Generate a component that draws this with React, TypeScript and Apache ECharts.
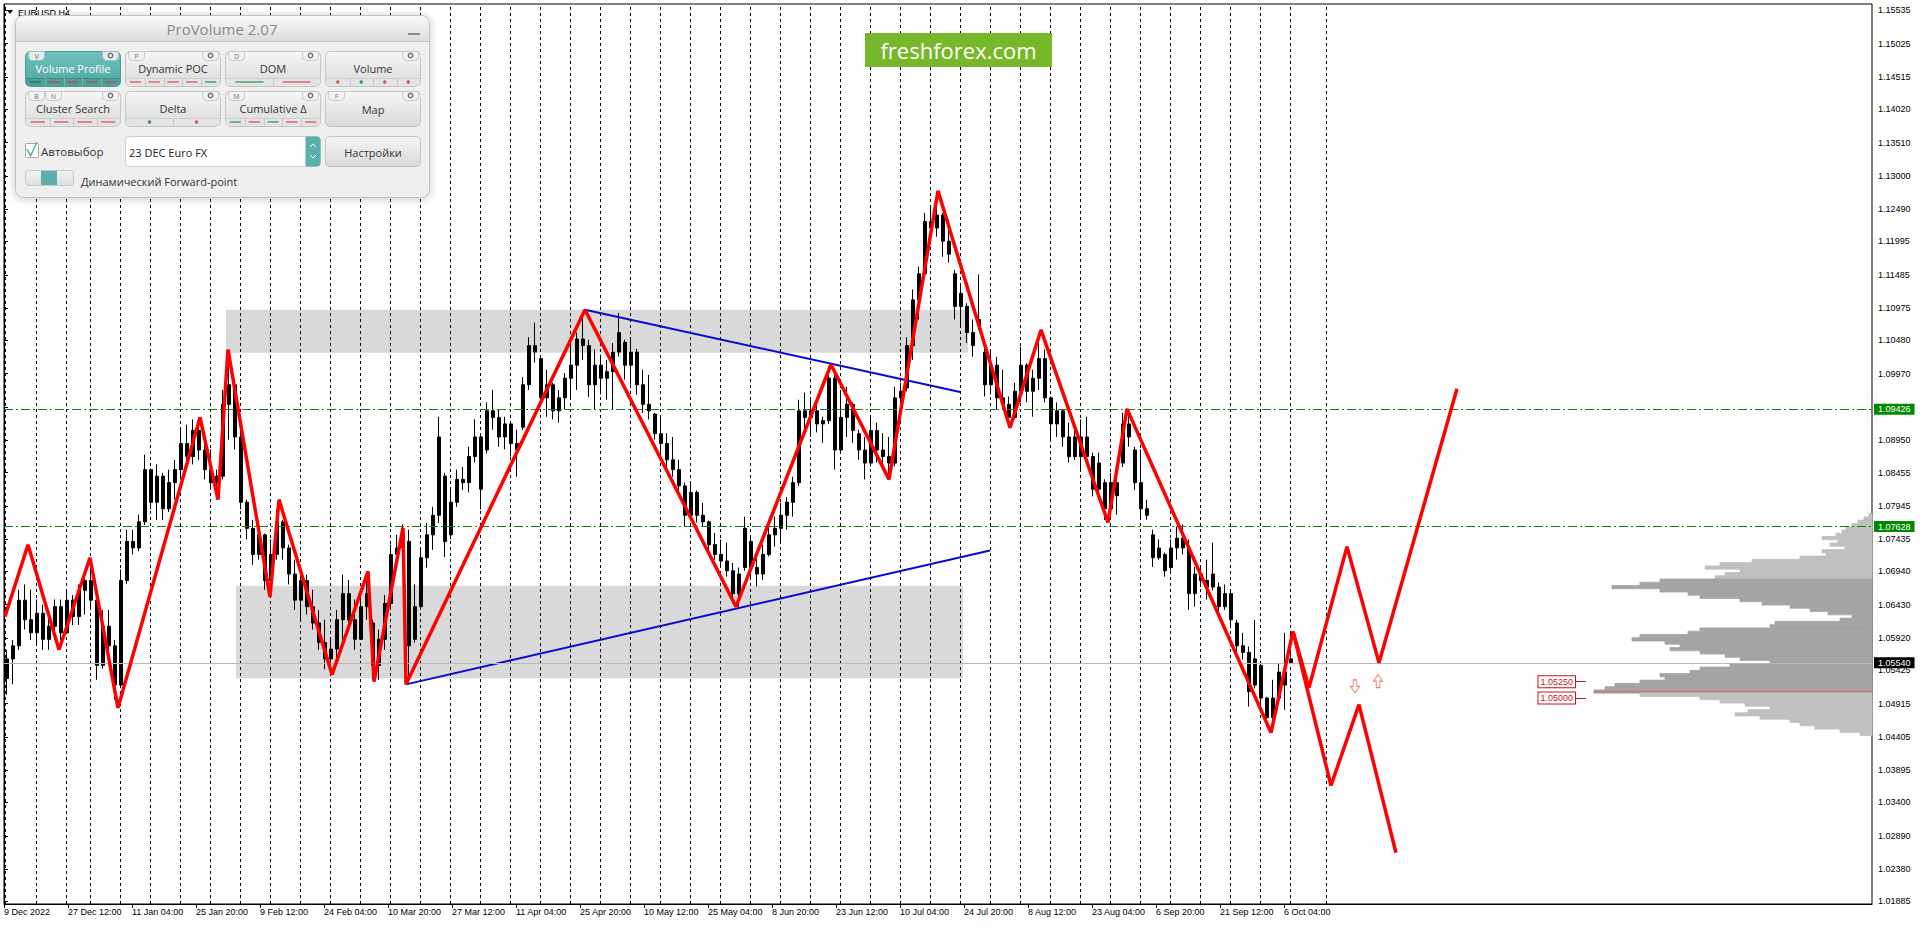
import React, { useEffect, useRef } from "react";
import * as echarts from "echarts";

// ---------- axes ----------
const PRICE_MIN = 1.01845;
const PRICE_MAX = 1.15633;
const BAR_SPAN = 1868; // H4 bars visible across the plot

const xTickBars = [0, 64, 128, 192, 256, 320, 384, 448, 512, 576, 640, 704, 768, 832, 896, 960, 1024, 1088, 1152, 1216, 1280];
const xTickLabels = [
  "9 Dec 2022", "27 Dec 12:00", "11 Jan 04:00", "25 Jan 20:00", "9 Feb 12:00", "24 Feb 04:00",
  "10 Mar 20:00", "27 Mar 12:00", "11 Apr 04:00", "25 Apr 20:00", "10 May 12:00", "25 May 04:00",
  "8 Jun 20:00", "23 Jun 12:00", "10 Jul 04:00", "24 Jul 20:00", "8 Aug 12:00", "23 Aug 04:00",
  "6 Sep 20:00", "21 Sep 12:00", "6 Oct 04:00",
];
const yTickValues = [
  1.15535, 1.15025, 1.14515, 1.1402, 1.1351, 1.13, 1.1249, 1.11995, 1.11485, 1.10975, 1.1048, 1.0997,
  1.0946, 1.0895, 1.08455, 1.07945, 1.07435, 1.0694, 1.0643, 1.0592, 1.05425, 1.04915, 1.04405,
  1.03895, 1.034, 1.0289, 1.0238, 1.01885,
];
// weekly period separators (bar index)
const weekSeparators = [
  1.5, 32.5, 62.5, 86.5, 116.5, 146.5, 176.5, 206.5, 236.5, 266.5, 296.5, 326.5, 356.5, 386.5, 416.5,
  446.5, 476.5, 506.5, 536.5, 566.5, 596.5, 626.5, 656.5, 686.5, 716.5, 746.5, 776.5, 806.5, 836.5,
  866.5, 896.5, 926.5, 956.5, 986.5, 1016.5, 1046.5, 1076.5, 1106.5, 1136.5, 1166.5, 1196.5, 1226.5,
  1256.5, 1286.5, 1322.5,
];

// ---------- price (daily OHLC: open, high, low, close), one per 6 H4 bars ----------
const dailyBars = [
  [1.053, 1.0574, 1.0505, 1.056], [1.056, 1.0589, 1.0521, 1.058], [1.058, 1.0666, 1.0574, 1.065], [1.065, 1.0674, 1.0605, 1.062],
  [1.062, 1.0666, 1.0589, 1.06], [1.06, 1.0651, 1.0582, 1.063], [1.063, 1.0643, 1.0574, 1.059], [1.059, 1.0635, 1.0574, 1.061],
  [1.061, 1.0651, 1.0589, 1.064], [1.064, 1.0651, 1.0589, 1.06], [1.06, 1.0666, 1.0598, 1.065], [1.065, 1.0658, 1.0612, 1.0625],
  [1.0625, 1.0674, 1.0612, 1.0665], [1.0665, 1.0689, 1.0628, 1.068], [1.068, 1.0704, 1.0635, 1.065], [1.065, 1.0651, 1.0528, 1.055],
  [1.055, 1.0635, 1.0545, 1.061], [1.061, 1.0635, 1.0574, 1.058], [1.058, 1.0589, 1.0498, 1.052], [1.052, 1.0697, 1.0515, 1.068],
  [1.068, 1.0758, 1.0675, 1.074], [1.074, 1.0758, 1.072, 1.073], [1.073, 1.0781, 1.0725, 1.077], [1.077, 1.0873, 1.0765, 1.085],
  [1.085, 1.0852, 1.0789, 1.08], [1.08, 1.0858, 1.0773, 1.084], [1.084, 1.0845, 1.0773, 1.079], [1.079, 1.085, 1.0785, 1.083],
  [1.083, 1.0865, 1.0804, 1.085], [1.085, 1.0911, 1.0835, 1.089], [1.089, 1.0919, 1.085, 1.087], [1.087, 1.0927, 1.0858, 1.091],
  [1.091, 1.0927, 1.0865, 1.088], [1.088, 1.0896, 1.0835, 1.085], [1.085, 1.0881, 1.0819, 1.083], [1.083, 1.085, 1.0804, 1.084],
  [1.084, 1.0972, 1.0835, 1.095], [1.095, 1.1023, 1.0896, 1.098], [1.098, 1.0988, 1.0881, 1.09], [1.09, 1.0911, 1.0789, 1.08],
  [1.08, 1.0804, 1.0743, 1.076], [1.076, 1.0773, 1.0704, 1.072], [1.072, 1.0766, 1.0712, 1.075], [1.075, 1.0752, 1.0666, 1.068],
  [1.068, 1.0743, 1.0674, 1.072], [1.072, 1.0789, 1.0712, 1.077], [1.077, 1.0773, 1.0712, 1.073], [1.073, 1.0735, 1.0674, 1.069],
  [1.069, 1.0712, 1.0635, 1.065], [1.065, 1.0704, 1.062, 1.068], [1.068, 1.0689, 1.0628, 1.064], [1.064, 1.0666, 1.0605, 1.0615],
  [1.0615, 1.0635, 1.0574, 1.0585], [1.0585, 1.062, 1.0544, 1.056], [1.056, 1.0589, 1.0536, 1.0575], [1.0575, 1.0635, 1.0559, 1.062],
  [1.062, 1.0689, 1.0589, 1.066], [1.066, 1.0681, 1.0605, 1.062], [1.062, 1.0651, 1.0574, 1.059], [1.059, 1.0666, 1.0589, 1.064],
  [1.064, 1.0692, 1.062, 1.066], [1.0615, 1.062, 1.0528, 1.055], [1.055, 1.0605, 1.0528, 1.059], [1.059, 1.0658, 1.0574, 1.0645],
  [1.0645, 1.0735, 1.064, 1.072], [1.072, 1.075, 1.0697, 1.073], [1.073, 1.0766, 1.0712, 1.075], [1.074, 1.0758, 1.0521, 1.058],
  [1.059, 1.0674, 1.0585, 1.064], [1.064, 1.0731, 1.0635, 1.0715], [1.0715, 1.0768, 1.07, 1.075], [1.075, 1.0793, 1.0727, 1.078],
  [1.078, 1.0931, 1.0768, 1.09], [1.084, 1.0845, 1.0716, 1.074], [1.075, 1.0819, 1.0743, 1.08], [1.08, 1.085, 1.0793, 1.0835],
  [1.0835, 1.0854, 1.0819, 1.083], [1.083, 1.0885, 1.0815, 1.087], [1.087, 1.0927, 1.0861, 1.09], [1.09, 1.0905, 1.0789, 1.082],
  [1.088, 1.0953, 1.0875, 1.094], [1.094, 1.0972, 1.0911, 1.093], [1.093, 1.0942, 1.0885, 1.09], [1.09, 1.0931, 1.0881, 1.092],
  [1.092, 1.0922, 1.087, 1.089], [1.089, 1.0911, 1.0839, 1.088], [1.0915, 1.0992, 1.0911, 1.098], [1.098, 1.1053, 1.0972, 1.104],
  [1.104, 1.1075, 1.1014, 1.103], [1.102, 1.1023, 1.0946, 1.096], [1.096, 1.1003, 1.0931, 1.098], [1.098, 1.0983, 1.0927, 1.094],
  [1.094, 1.0972, 1.0922, 1.096], [1.096, 1.0998, 1.0942, 1.099], [1.099, 1.1041, 1.0957, 1.101], [1.101, 1.106, 1.0972, 1.105],
  [1.105, 1.1086, 1.1018, 1.104], [1.104, 1.1049, 1.0961, 1.098], [1.098, 1.1034, 1.0942, 1.101], [1.101, 1.1026, 1.0965, 1.099],
  [1.099, 1.1018, 1.0957, 1.1], [1.1, 1.1044, 1.0942, 1.103], [1.103, 1.109, 1.1023, 1.106], [1.1045, 1.1049, 1.0988, 1.101],
  [1.101, 1.1049, 1.098, 1.103], [1.103, 1.1035, 1.0965, 1.098], [1.098, 1.1003, 1.0937, 1.095], [1.095, 1.0995, 1.0927, 1.094],
  [1.0935, 1.0937, 1.0896, 1.0905], [1.0905, 1.0931, 1.087, 1.089], [1.089, 1.0906, 1.0854, 1.0865], [1.0865, 1.09, 1.0839, 1.085],
  [1.085, 1.0865, 1.0815, 1.0825], [1.0825, 1.083, 1.0763, 1.078], [1.078, 1.083, 1.0776, 1.0815], [1.0815, 1.0818, 1.0769, 1.078],
  [1.078, 1.0799, 1.0763, 1.077], [1.077, 1.0772, 1.0723, 1.0735], [1.0735, 1.0753, 1.0712, 1.072], [1.072, 1.0743, 1.0701, 1.071],
  [1.071, 1.0738, 1.0686, 1.0695], [1.0695, 1.0707, 1.0646, 1.066], [1.066, 1.07, 1.064, 1.069], [1.07, 1.0778, 1.0695, 1.076],
  [1.074, 1.0745, 1.0681, 1.07], [1.07, 1.0717, 1.0671, 1.069], [1.069, 1.0735, 1.0681, 1.072], [1.072, 1.0769, 1.0717, 1.075],
  [1.075, 1.0778, 1.0732, 1.076], [1.076, 1.0799, 1.0738, 1.078], [1.078, 1.0808, 1.0758, 1.08], [1.08, 1.0839, 1.0778, 1.083],
  [1.083, 1.0957, 1.0825, 1.094], [1.094, 1.0968, 1.0911, 1.093], [1.093, 1.0957, 1.09, 1.094], [1.094, 1.0952, 1.0907, 1.092],
  [1.092, 1.0931, 1.0891, 1.0925], [1.0925, 1.1008, 1.092, 1.099], [1.099, 1.0995, 1.085, 1.088], [1.088, 1.0972, 1.0875, 1.093],
  [1.093, 1.0977, 1.09, 1.095], [1.095, 1.0953, 1.0891, 1.091], [1.0905, 1.0911, 1.0865, 1.088], [1.088, 1.09, 1.0835, 1.086],
  [1.086, 1.0931, 1.0855, 1.091], [1.091, 1.0922, 1.0861, 1.088], [1.088, 1.0906, 1.085, 1.087], [1.087, 1.09, 1.0838, 1.086],
  [1.086, 1.0977, 1.0855, 1.096], [1.096, 1.0983, 1.0927, 1.097], [1.0975, 1.1053, 1.097, 1.104], [1.104, 1.1126, 1.1018, 1.111],
  [1.111, 1.1161, 1.108, 1.115], [1.115, 1.1243, 1.1145, 1.123], [1.123, 1.1253, 1.1197, 1.122], [1.122, 1.127, 1.1207, 1.124],
  [1.124, 1.1243, 1.1176, 1.12], [1.12, 1.1233, 1.1167, 1.118], [1.115, 1.1156, 1.108, 1.11], [1.11, 1.1136, 1.1069, 1.112],
  [1.11, 1.1105, 1.1044, 1.106], [1.106, 1.108, 1.1023, 1.104], [1.107, 1.1149, 1.1064, 1.108], [1.103, 1.1038, 1.0962, 1.098],
  [1.098, 1.1034, 1.0965, 1.101], [1.101, 1.1023, 1.0942, 1.096], [1.096, 1.1003, 1.0942, 1.095], [1.095, 1.0962, 1.0916, 1.093],
  [1.093, 1.0983, 1.0927, 1.097], [1.097, 1.1038, 1.0953, 1.101], [1.101, 1.1013, 1.0953, 1.097], [1.097, 1.1003, 1.0931, 1.099],
  [1.099, 1.1044, 1.0972, 1.102], [1.102, 1.1034, 1.0953, 1.096], [1.096, 1.0962, 1.0896, 1.092], [1.092, 1.0953, 1.09, 1.094],
  [1.094, 1.0942, 1.0885, 1.09], [1.09, 1.0922, 1.0861, 1.087], [1.087, 1.0922, 1.0865, 1.09], [1.09, 1.0927, 1.085, 1.087],
  [1.087, 1.0931, 1.0865, 1.09], [1.087, 1.0876, 1.0809, 1.082], [1.082, 1.0876, 1.0815, 1.086], [1.083, 1.0835, 1.0773, 1.079],
  [1.079, 1.0845, 1.0784, 1.083], [1.083, 1.0842, 1.0781, 1.081], [1.086, 1.0937, 1.0854, 1.092], [1.092, 1.0937, 1.0885, 1.09],
  [1.088, 1.0885, 1.0819, 1.083], [1.083, 1.0881, 1.0773, 1.079], [1.079, 1.0804, 1.0773, 1.078], [1.075, 1.0758, 1.0701, 1.0715],
  [1.0715, 1.0743, 1.0712, 1.073], [1.072, 1.0723, 1.0686, 1.0695], [1.07, 1.0743, 1.0695, 1.073], [1.073, 1.0763, 1.0712, 1.0745],
  [1.0745, 1.0766, 1.072, 1.073], [1.073, 1.0743, 1.0635, 1.066], [1.066, 1.0701, 1.064, 1.069], [1.069, 1.0701, 1.067, 1.068],
  [1.068, 1.0712, 1.0651, 1.067], [1.067, 1.0738, 1.0665, 1.069], [1.067, 1.0677, 1.063, 1.064], [1.064, 1.0674, 1.0635, 1.066],
  [1.066, 1.0666, 1.0609, 1.062], [1.0615, 1.062, 1.0569, 1.058], [1.058, 1.06, 1.0559, 1.057], [1.057, 1.0579, 1.0487, 1.051],
  [1.052, 1.062, 1.0515, 1.056], [1.055, 1.0554, 1.0487, 1.05], [1.05, 1.0502, 1.0456, 1.047], [1.047, 1.0528, 1.0465, 1.05],
  [1.05, 1.0554, 1.0495, 1.054], [1.054, 1.06, 1.0482, 1.052], [1.056, 1.06, 1.0554, 1.0554],
];
const BARS_PER_DAY = 6;

// ---------- drawn objects ----------
const zigzagMain = [
  [1, 1.0625], [24, 1.0735], [55, 1.0574], [86, 1.0715], [114, 1.0485], [196, 1.093], [214, 1.0804],
  [224, 1.1034], [266, 1.0655], [275, 1.0804], [328, 1.0536], [364, 1.0694], [370, 1.0525], [399, 1.0761],
  [402, 1.0521], [581, 1.1095], [732, 1.064], [827, 1.1011], [885, 1.0835], [934, 1.1277], [1006, 1.0914],
  [1037, 1.1064], [1104, 1.0769], [1123, 1.0943], [1267, 1.0447], [1289, 1.0602],
];
const projectionUp = [[1289, 1.0602], [1305, 1.0516], [1343, 1.0732], [1375, 1.0554], [1453, 1.0974]];
const projectionDown = [[1289, 1.0602], [1327, 1.0366], [1355, 1.049], [1392, 1.0263]];
const trendUpper = [[581, 1.1095], [956, 1.0969]];
const trendLower = [[402, 1.0521], [986, 1.0726]];
const supplyZone = [222, 964, 1.1095, 1.1029]; // x0, x1, price top, price bottom
const demandZone = [232, 959, 1.0672, 1.053];
const greenLevels = [1.09426, 1.07628];
const currentPrice = 1.0554;
const priceLabels = [1.0525, 1.05];
const PRICE_LABEL_BAR = 1571;
const arrowMarks = [[1351, 1.0518, "down"], [1374, 1.0526, "up"]];

// ---------- volume profile ----------
const PROFILE_STEP = 0.0005;
const profilePrices = [
  1.078, 1.0775, 1.077, 1.0765, 1.076, 1.0755, 1.075, 1.0745, 1.074, 1.0735,
  1.073, 1.0725, 1.072, 1.0715, 1.071, 1.0705, 1.07, 1.0695, 1.069, 1.0685,
  1.068, 1.0675, 1.067, 1.0665, 1.066, 1.0655, 1.065, 1.0645, 1.064, 1.0635,
  1.063, 1.0625, 1.062, 1.0615, 1.061, 1.0605, 1.06, 1.0595, 1.059, 1.0585,
  1.058, 1.0575, 1.057, 1.0565, 1.056, 1.0555, 1.055, 1.0545, 1.054, 1.0535,
  1.053, 1.0525, 1.052, 1.0515, 1.051, 1.0505, 1.05, 1.0495, 1.049, 1.0485,
  1.048, 1.0475, 1.047, 1.0465, 1.046, 1.0455, 1.045, 1.0445,
];
const profileVolumes = [
  3, 8, 14, 20, 26, 30, 36, 50, 34, 42,
  27, 50, 46, 72, 120, 152, 167, 132, 147, 157,
  212, 232, 260, 212, 184, 172, 132, 110, 82, 62,
  44, 20, 32, 97, 102, 172, 184, 232, 240, 207,
  192, 202, 172, 147, 132, 102, 142, 172, 182, 212,
  207, 232, 257, 267, 278, 232, 172, 152, 127, 102,
  124, 137, 112, 82, 72, 57, 32, 12,
];
const valueArea = [1.068, 1.051];
const pocPrice = 1.0511;

const AXIS_FONT = "'Liberation Sans', Arial, sans-serif";
const UI_FONT = "'Open Sans', 'Noto Sans', sans-serif";
const DOWN_PATH = "path://M3,0L7,0L7,7L10,7L5,14L0,7L3,7Z";
const UP_PATH = "path://M5,0L10,7L7,7L7,14L3,14L3,7L0,7Z";

function txt(text, x, y, size, fill, align = "left", extra = {}) {
  return {
    type: "text",
    z: 100,
    silent: true,
    style: {
      text, x, y, fill, fontSize: size, fontFamily: UI_FONT,
      textAlign: align, align, textVerticalAlign: "middle", verticalAlign: "middle", ...extra,
    },
  };
}

function grad(a, b) {
  return new echarts.graphic.LinearGradient(0, 0, 0, 1, [
    { offset: 0, color: a },
    { offset: 1, color: b },
  ]);
}

const panelButtons = [
  { x: 25, y: 51, label: "Volume Profile", tags: ["V"], active: true, kind: "dash", cells: ["g", "r", "r", "r", "r"] },
  { x: 125, y: 51, label: "Dynamic POC", tags: ["P"], kind: "dash", cells: ["r", "r", "r", "r", "g"] },
  { x: 225, y: 51, label: "DOM", tags: ["D"], kind: "dash", cells: ["g", "r"] },
  { x: 325, y: 51, label: "Volume", tags: [], kind: "dot", cells: ["r", "g", "r", "r"] },
  { x: 25, y: 91, label: "Cluster Search", tags: ["B", "N"], kind: "dash", cells: ["r", "r", "r", "r"] },
  { x: 125, y: 91, label: "Delta", tags: [], kind: "dot", cells: ["g", "r"] },
  { x: 225, y: 91, label: "Cumulative Δ", tags: ["M"], kind: "dash", cells: ["g", "r", "g", "r", "r"] },
  { x: 325, y: 91, label: "Map", tags: ["F"], kind: "none", cells: [] },
];

function panelElements() {
  const els: any[] = [];
  const Z = 100;
  const add = (e) => { e.z = Z; e.silent = true; els.push(e); };
  add({ type: "rect", shape: { x: 15.5, y: 15.5, width: 414, height: 182, r: 8 },
    style: { fill: "#efefef", stroke: "#c2c2c2", lineWidth: 1, shadowBlur: 8, shadowColor: "rgba(0,0,0,0.22)", shadowOffsetY: 1 } });
  add({ type: "rect", shape: { x: 16, y: 16, width: 413, height: 25, r: [8, 8, 0, 0] }, style: { fill: grad("#f9f9f9", "#dcdcdc") } });
  add({ type: "line", shape: { x1: 16, y1: 41.5, x2: 429, y2: 41.5 }, style: { stroke: "#c6c6c6", lineWidth: 1 } });
  els.push(txt("ProVolume 2.07", 222, 29, 15, "#8a8a8a", "center"));
  add({ type: "rect", shape: { x: 408, y: 33, width: 12, height: 2 }, style: { fill: "#8a8a8a" } });

  const W = 95, H = 35;
  for (const b of panelButtons) {
    const act = !!b.active;
    add({ type: "rect", shape: { x: b.x + 0.5, y: b.y + 0.5, width: W, height: H, r: 5 },
      style: { fill: act ? grad("#6fc2bd", "#4fa6a1") : grad("#f6f6f6", "#dadada"), stroke: act ? "#4c9d98" : "#c4c4c4", lineWidth: 1 } });
    b.tags.forEach((t, i) => {
      const tx = b.x + 3 + i * 17;
      add({ type: "rect", shape: { x: tx + 0.5, y: b.y + 0.5, width: 16, height: 9, r: [0, 0, 4, 4] },
        style: { fill: act ? "#e9e9e9" : "#f3f3f3", stroke: act ? "#8fc9c5" : "#c8c8c8", lineWidth: 1 } });
      els.push(txt(t, tx + 8.5, b.y + 5, 7, "#707070", "center"));
    });
    add({ type: "rect", shape: { x: b.x + 77.5, y: b.y + 0.5, width: 16, height: 9, r: [0, 0, 4, 4] },
      style: { fill: act ? "#e9e9e9" : "#f3f3f3", stroke: act ? "#8fc9c5" : "#c8c8c8", lineWidth: 1 } });
    add({ type: "circle", shape: { cx: b.x + 85.5, cy: b.y + 4.5, r: 2.2 }, style: { fill: "#fff", stroke: "#707070", lineWidth: 1.4 } });
    const ty = b.kind === "none" ? b.y + 18 : b.y + 17;
    els.push(txt(b.label, b.x + 48, ty, 11, act ? "#ffffff" : "#333333", "center"));
    if (b.kind !== "none") {
      const sx = b.x + 1, sw = W - 1, sy = b.y + 27;
      add({ type: "rect", shape: { x: sx, y: sy, width: sw, height: 8, r: [0, 0, 4, 4] }, style: { fill: act ? "#4d9f9a" : "#e4e4e4" } });
      add({ type: "line", shape: { x1: sx, y1: sy + 0.5, x2: sx + sw, y2: sy + 0.5 }, style: { stroke: act ? "#3f8c87" : "#cfcfcf", lineWidth: 1 } });
      const n = b.cells.length;
      const cw = sw / n;
      b.cells.forEach((c, i) => {
        const cx = sx + i * cw;
        const col = c === "g" ? (act ? "#2d6a3f" : "#3a9455") : (act ? "#b84a48" : "#d25555");
        if (i > 0) add({ type: "line", shape: { x1: Math.round(cx) + 0.5, y1: sy, x2: Math.round(cx) + 0.5, y2: sy + 8 }, style: { stroke: act ? "#6db7b2" : "#c8c8c8", lineWidth: 1 } });
        if (b.kind === "dash") {
          add({ type: "line", shape: { x1: cx + cw * 0.2, y1: sy + 4, x2: cx + cw * 0.8, y2: sy + 4 }, style: { stroke: col, lineWidth: 1.3 } });
        } else {
          add({ type: "circle", shape: { cx: cx + cw / 2, cy: sy + 4, r: 1.7 }, style: { fill: col } });
        }
      });
    }
  }
  add({ type: "rect", shape: { x: 25.5, y: 143.5, width: 13, height: 14, r: 1 }, style: { fill: "#ffffff", stroke: "#a8a8a8", lineWidth: 1 } });
  add({ type: "polyline", shape: { points: [[27, 149], [30.5, 156], [37, 142]] }, style: { stroke: "#4fa6a1", lineWidth: 1.3, fill: null } });
  els.push(txt("Автовыбор", 41, 151, 11.5, "#333333"));
  add({ type: "rect", shape: { x: 125.5, y: 136.5, width: 195, height: 30, r: 4 }, style: { fill: "#ffffff", stroke: "#cdcdcd", lineWidth: 1 } });
  add({ type: "rect", shape: { x: 305.5, y: 136.5, width: 15, height: 30, r: [0, 4, 4, 0] }, style: { fill: "#5bb0ab" } });
  add({ type: "polyline", shape: { points: [[310, 147], [313, 144], [316, 147]] }, style: { stroke: "#ffffff", lineWidth: 1, fill: null } });
  add({ type: "polyline", shape: { points: [[310, 155], [313, 158], [316, 155]] }, style: { stroke: "#ffffff", lineWidth: 1, fill: null } });
  els.push(txt("23 DEC Euro FX", 129, 152, 11, "#222222"));
  add({ type: "rect", shape: { x: 325.5, y: 136.5, width: 95, height: 30, r: 4 }, style: { fill: grad("#f6f6f6", "#d9d9d9"), stroke: "#c4c4c4", lineWidth: 1 } });
  els.push(txt("Настройки", 373, 152, 11, "#333333", "center"));
  add({ type: "rect", shape: { x: 25.5, y: 170.5, width: 48, height: 15, r: 3 }, style: { fill: grad("#f2f2f2", "#dedede"), stroke: "#c8c8c8", lineWidth: 1 } });
  add({ type: "rect", shape: { x: 41, y: 171, width: 16, height: 14 }, style: { fill: "#5bb0ab" } });
  els.push(txt("Динамический Forward-point", 81, 181, 11, "#333333"));
  return els;
}

function buildOption() {
  const candleData = dailyBars.map((b, d) => [BARS_PER_DAY * d + 3, b[0], b[3], b[2], b[1]]);
  const pocVolume = Math.max(...profileVolumes);
  const redLine = { color: "#ff0000", width: 3.5 };
  const blueLine = { color: "#0a0ad2", width: 2 };

  const levelLabel = (bg, text) => ({
    show: true, position: "end", distance: 2, formatter: text, backgroundColor: bg, color: "#ffffff",
    fontSize: 9, fontFamily: AXIS_FONT, padding: [1, 4, 0, 4], lineHeight: 10,
  });

  return {
    animation: false,
    backgroundColor: "#ffffff",
    grid: { left: 4, top: 4, width: BAR_SPAN, height: 900, show: true, borderColor: "#000000", borderWidth: 1, backgroundColor: "transparent" },
    xAxis: [
      {
        type: "value", min: 0, max: BAR_SPAN, position: "bottom",
        axisLine: { show: true, lineStyle: { color: "#000000", width: 1 } },
        axisTick: { show: true, customValues: xTickBars, length: 4, lineStyle: { color: "#000000" } },
        axisLabel: {
          customValues: xTickBars, align: "left", margin: 3, fontSize: 9, color: "#000000", fontFamily: AXIS_FONT,
          formatter: (v) => xTickLabels[xTickBars.indexOf(v)] ?? "",
        },
        splitLine: { show: false },
      },
      { type: "value", min: 0, max: BAR_SPAN, inverse: true, show: false },
    ],
    yAxis: {
      type: "value", position: "right", min: PRICE_MIN, max: PRICE_MAX, scale: true,
      axisLine: { show: true, lineStyle: { color: "#000000" } },
      axisTick: { show: true, customValues: yTickValues, length: 4, lineStyle: { color: "#000000" } },
      axisLabel: { customValues: yTickValues, formatter: (v) => v.toFixed(5), margin: 6, fontSize: 9, color: "#000000", fontFamily: AXIS_FONT },
      splitLine: { show: false },
    },
    series: [
      {
        name: "zones", type: "line", z: 1, silent: true, data: [[0, currentPrice]], showSymbol: false, lineStyle: { width: 0 },
        markArea: {
          silent: true,
          itemStyle: { color: "#d9d9d9", opacity: 1 },
          data: [
            [{ coord: [supplyZone[0], supplyZone[2]] }, { coord: [supplyZone[1], supplyZone[3]] }],
            [{ coord: [demandZone[0], demandZone[2]] }, { coord: [demandZone[1], demandZone[3]] }],
          ],
        },
      },
      {
        name: "separators", type: "line", z: 2, silent: true, data: [[0, currentPrice]], showSymbol: false, lineStyle: { width: 0 },
        markLine: {
          silent: true, symbol: ["none", "none"], label: { show: false }, precision: 6,
          lineStyle: { color: "#000000", width: 1, type: [3, 3] },
          data: weekSeparators.map((v) => ({ xAxis: v })),
        },
      },
      {
        name: "profile", type: "custom", xAxisIndex: 1, yAxisIndex: 0, z: 2, silent: true,
        data: profilePrices.map((p, i) => [profileVolumes[i], p]),
        encode: { x: 0, y: 1 },
        renderItem: (params, api) => {
          const vol = api.value(0);
          const price = api.value(1);
          const a = api.coord([vol, price + PROFILE_STEP / 2]);
          const b = api.coord([0, price - PROFILE_STEP / 2]);
          const inVA = price <= valueArea[0] + 1e-9 && price >= valueArea[1] - 1e-9;
          const col = inVA ? "#a4a4a4" : "#c0c0c0";
          return {
            type: "rect",
            shape: { x: a[0], y: a[1], width: b[0] - a[0], height: b[1] - a[1] },
            style: { fill: col, stroke: col, lineWidth: 0.8 },
          };
        },
        markLine: {
          silent: true, symbol: ["none", "none"], label: { show: false }, precision: 6,
          lineStyle: { color: "#e06b6b", width: 1, type: "solid" },
          data: [[{ coord: [pocVolume, pocPrice] }, { coord: [0, pocPrice] }]],
        },
      },
      {
        name: "levels", type: "line", z: 2, silent: true, data: [[0, currentPrice]], showSymbol: false, lineStyle: { width: 0 },
        markLine: {
          silent: true, symbol: ["none", "none"], precision: 6,
          data: [
            ...greenLevels.map((p) => ({
              yAxis: p, lineStyle: { color: "#1f7a1f", width: 1, type: [9, 3, 2, 3] }, label: levelLabel("#008a00", p.toFixed(5)),
            })),
            { yAxis: currentPrice, lineStyle: { color: "#b8b8b8", width: 1, type: "solid" }, label: levelLabel("#000000", currentPrice.toFixed(5)) },
          ],
        },
      },
      {
        name: "EURUSD", type: "candlestick", z: 3, silent: true, barWidth: 4,
        data: candleData, encode: { x: 0, y: [1, 2, 3, 4] },
        itemStyle: { color: "#000000", color0: "#000000", borderColor: "#000000", borderColor0: "#000000", borderWidth: 1 },
      },
      { name: "trendUpper", type: "line", z: 4, silent: true, data: trendUpper, showSymbol: false, lineStyle: blueLine },
      { name: "trendLower", type: "line", z: 4, silent: true, data: trendLower, showSymbol: false, lineStyle: blueLine },
      { name: "zigzag", type: "line", z: 5, silent: true, data: zigzagMain, showSymbol: false, lineStyle: redLine },
      { name: "projUp", type: "line", z: 5, silent: true, data: projectionUp, showSymbol: false, lineStyle: redLine },
      { name: "projDown", type: "line", z: 5, silent: true, data: projectionDown, showSymbol: false, lineStyle: redLine },
      {
        name: "priceLabels", type: "line", z: 5, silent: true, data: [[0, currentPrice]], showSymbol: false, lineStyle: { width: 0 },
        markLine: {
          silent: true, symbol: ["none", "none"], precision: 6,
          lineStyle: { color: "#c81414", width: 1, type: "solid" },
          label: {
            show: true, position: "start", distance: 0, color: "#c81414", backgroundColor: "#ffffff",
            borderColor: "#c81414", borderWidth: 1, padding: [1, 2, 0, 2], fontSize: 9, fontFamily: AXIS_FONT, lineHeight: 10,
          },
          data: priceLabels.map((p) => [
            { coord: [PRICE_LABEL_BAR, p], label: { formatter: p.toFixed(5) } },
            { coord: [PRICE_LABEL_BAR + 11, p] },
          ]),
        },
      },
      {
        name: "arrows", type: "scatter", z: 6, silent: true, symbolSize: [9, 13],
        itemStyle: { color: "#ffffff", borderColor: "#e8583a", borderWidth: 1 },
        data: arrowMarks.map((a) => ({ value: [a[0], a[1]], symbol: a[2] === "down" ? DOWN_PATH : UP_PATH })),
      },
    ],
    graphic: [
      { type: "polygon", z: 50, silent: true, shape: { points: [[7, 10], [13, 10], [10, 14]] }, style: { fill: "#000000" } },
      { type: "text", z: 50, silent: true, style: { text: "EURUSD,H4", x: 18, y: 12.5, fill: "#000000", fontSize: 9, fontFamily: AXIS_FONT, textVerticalAlign: "middle", verticalAlign: "middle" } },
      { type: "rect", z: 60, silent: true, shape: { x: 865, y: 33, width: 187, height: 34 }, style: { fill: "#77b82b" } },
      txt("freshforex.com", 958.5, 50, 22, "#ffffff", "center"),
      ...panelElements(),
    ],
  };
}

export default function App() {
  const ref = useRef<HTMLDivElement>(null);
  useEffect(() => {
    document.body.style.margin = "0";
    const chart = echarts.init(ref.current!, null, { renderer: "svg" });
    chart.setOption(buildOption() as any);
    return () => chart.dispose();
  }, []);
  return <div ref={ref} style={{ width: 1920, height: 927, background: "#ffffff" }} />;
}
